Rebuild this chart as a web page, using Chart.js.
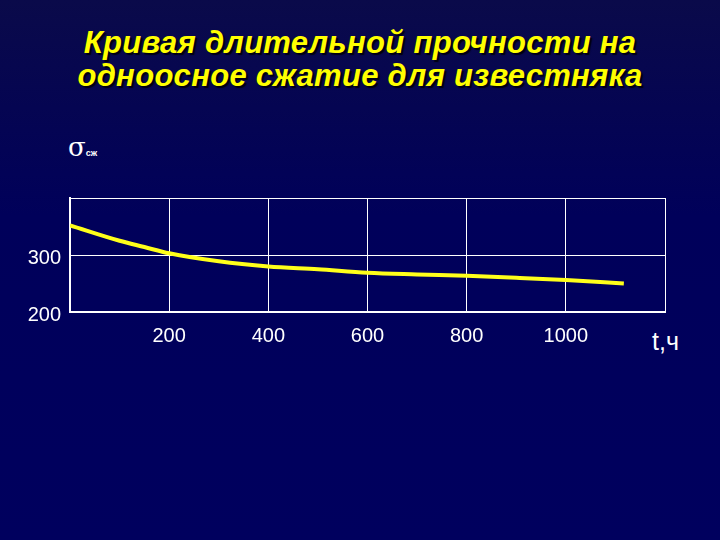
<!DOCTYPE html>
<html>
<head>
<meta charset="utf-8">
<script src="https://cdn.jsdelivr.net/npm/chart.js@4"></script>
<style>
  html, body { margin: 0; padding: 0; }
  body {
    width: 720px; height: 540px; overflow: hidden; position: relative;
    background: linear-gradient(to bottom, #0a0a4a 0%, #00005a 40%, #00005e 100%);
    font-family: "Liberation Sans", Arial, sans-serif;
  }
  #title {
    position: absolute; left: 0; top: 26px; width: 720px;
    text-align: center; color: #ffff00;
    font: italic bold 31px/33px "Liberation Sans", Arial, sans-serif;
    letter-spacing: 0.3px;
    text-shadow: 2px 2px 1px #000010;
  }
  .lbl { position: absolute; color: #ffffff; white-space: nowrap; }
  #ylab { left: 68px; top: 132px; font: 26px "DejaVu Serif", serif; }
  #ylab sub { font: bold 9px "Liberation Sans", Arial, sans-serif; vertical-align: 0; color: #ffffff; }
  #xlab { left: 652px; top: 327px; font: 25px "Liberation Sans", Arial, sans-serif; }
  canvas { position: absolute; left: 0; top: 0; }
</style>
</head>
<body>
<div id="title">Кривая длительной прочности на<br>одноосное сжатие для известняка</div>
<div class="lbl" id="ylab">σ<sub>сж</sub></div>
<div class="lbl" id="xlab">t,ч</div>
<canvas id="chart" width="720" height="540"></canvas>
<script>
  // curve: time (h) vs strength
  const hours = [0, 100, 150, 200, 300, 400, 500, 600, 700, 800, 900, 1000, 1117];
  const strength = [352, 325, 314, 303, 289, 280, 275, 269, 266, 263.5, 260, 256, 250];

  const xTicks = [200, 400, 600, 800, 1000];
  const yTicks = [200, 300];

  const points = hours.map((h, i) => ({ x: h, y: strength[i] }));

  const ctx = document.getElementById('chart').getContext('2d');
  const chart = new Chart(ctx, {
    type: 'line',
    data: {
      datasets: [{
        data: points,
        borderColor: '#ffff1a',
        borderWidth: 4,
        pointRadius: 0,
        cubicInterpolationMode: 'monotone',
        fill: false
      }]
    },
    options: {
      responsive: false,
      animation: false,
      layout: { padding: { top: 198, right: 55, bottom: 188, left: 0 } },
      plugins: { legend: { display: false }, tooltip: { enabled: false } },
      scales: {
        x: {
          type: 'linear', min: 0, max: 1200,
          afterFit: function(s) { s.height = 40; },
          ticks: {
            stepSize: 200, color: '#ffffff', padding: 12,
            font: { family: 'Liberation Sans', size: 20 },
            callback: function(v) { return xTicks.includes(v) ? String(v) : ''; }
          },
          grid: { color: '#ffffff', lineWidth: 1, drawTicks: false },
          border: { color: '#ffffff', width: 2 }
        },
        y: {
          min: 200, max: 400,
          afterFit: function(s) { s.width = 70; },
          ticks: {
            stepSize: 100, color: '#ffffff', padding: 9, labelOffset: 3,
            font: { family: 'Liberation Sans', size: 20 },
            callback: function(v) { return yTicks.includes(v) ? String(v) : ''; }
          },
          grid: { color: '#ffffff', lineWidth: 1, drawTicks: false },
          border: { color: '#ffffff', width: 2 }
        }
      }
    }
  });
</script>
</body>
</html>
